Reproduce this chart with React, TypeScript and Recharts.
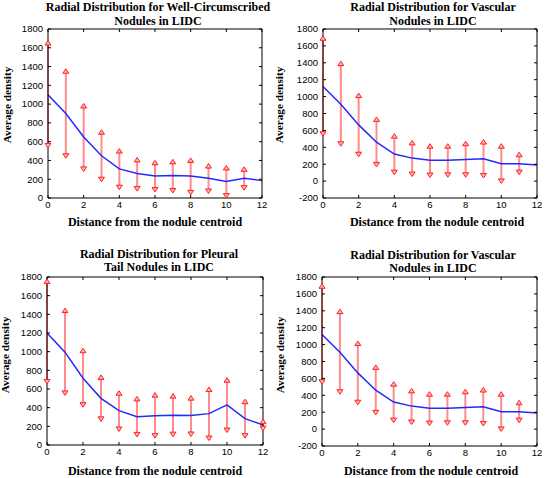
import { ComposedChart, Line, XAxis, YAxis, ErrorBar } from 'recharts'

const distance = [0, 1, 2, 3, 4, 5, 6, 7, 8, 9, 10, 11, 12]
const xTicks = [0, 2, 4, 6, 8, 10, 12]

// well-circumscribed
const wellMean = [1100, 900, 650, 450, 310, 260, 235, 240, 235, 210, 175, 210, 185]
const wellUpper = [1650, 1350, 980, 700, 500, 405, 375, 385, 400, 340, 320, 305, null]
const wellLower = [560, 450, 310, 200, 115, 100, 90, 80, 60, 75, 25, 110, null]

// vascular (shown twice in the figure)
const vascMean = [1120, 910, 665, 460, 320, 272, 248, 248, 255, 265, 205, 205, 190]
const vascUpper = [1690, 1390, 1012, 730, 532, 452, 413, 413, 442, 462, 413, 312, null]
const vascLower = [560, 442, 318, 198, 106, 84, 72, 75, 75, 66, 2, 106, null]

// pleural tail
const pleuMean = [1200, 995, 716, 500, 368, 304, 314, 320, 316, 336, 430, 282, 215]
const pleuUpper = [1752, 1440, 1010, 724, 554, 494, 534, 524, 502, 594, 694, 464, 250]
const pleuLower = [680, 558, 432, 280, 172, 114, 100, 116, 118, 74, 160, 100, 180]

const yTicksA = [0, 200, 400, 600, 800, 1000, 1200, 1400, 1600, 1800]
const yTicksB = [-200, 0, 200, 400, 600, 800, 1000, 1200, 1400, 1600, 1800]

const tickFont = { fontSize: 9.5, fill: '#000', fontFamily: '"Liberation Sans", Arial, sans-serif' }
const labelFont = { fontFamily: '"Liberation Serif", "Times New Roman", serif', fontWeight: 700, fontSize: 12, color: '#000', whiteSpace: 'nowrap' as const }

function buildRows(mean: number[], upper: (number | null)[], lower: (number | null)[]) {
  return distance.map((d, i) => {
    const hi = upper[i]
    const lo = lower[i]
    return {
      d,
      mean: mean[i],
      hi,
      lo,
      err: hi == null || lo == null ? undefined : [mean[i] - lo, hi - mean[i]],
    }
  })
}

const TriUp = (p: any) => {
  if (p.cy == null || p.payload?.hi == null) return <g key={p.key} />
  const { cx, cy } = p
  return <path key={p.key} d={`M${cx},${cy - 2.5} L${cx + 3},${cy + 2} L${cx - 3},${cy + 2} Z`} fill="#ffb3b3" stroke="#ff2020" strokeWidth={1} />
}

const TriDown = (p: any) => {
  if (p.cy == null || p.payload?.lo == null) return <g key={p.key} />
  const { cx, cy } = p
  return <path key={p.key} d={`M${cx},${cy + 2.5} L${cx + 3},${cy - 2} L${cx - 3},${cy - 2} Z`} fill="#ffb3b3" stroke="#ff2020" strokeWidth={1} />
}

interface PanelProps {
  rows: ReturnType<typeof buildRows>
  yTicks: number[]
  left: number
  top: number
  width: number
  margin: { top: number; right: number; bottom: number; left: number }
}

function Panel({ rows, yTicks, left, top, width, margin }: PanelProps) {
  const yDomain = [yTicks[0], yTicks[yTicks.length - 1]]
  return (
    <div style={{ position: 'absolute', left, top }}>
      <ComposedChart width={width} height={239} data={rows} margin={margin}>
        <XAxis xAxisId="b" dataKey="d" type="number" domain={[0, 12]} ticks={xTicks}
          stroke="#000" tickSize={-3} tickMargin={6} height={30} tick={tickFont} />
        <XAxis xAxisId="t" orientation="top" dataKey="d" type="number" domain={[0, 12]} ticks={xTicks}
          stroke="#000" tickSize={-3} tickFormatter={() => ''} height={1} />
        <YAxis yAxisId="l" type="number" domain={yDomain} ticks={yTicks}
          stroke="#000" tickSize={-3} tickMargin={8} width={40} tick={tickFont} />
        <YAxis yAxisId="r" orientation="right" type="number" domain={yDomain} ticks={yTicks}
          stroke="#000" tickSize={-3} tickFormatter={() => ''} width={1} />
        <Line xAxisId="b" yAxisId="l" dataKey="mean" stroke="#1f2bff" strokeWidth={1.5} dot={false}
          activeDot={false} isAnimationActive={false}>
          <ErrorBar dataKey="err" direction="y" width={0} stroke="#ff8c8c" strokeWidth={2} isAnimationActive={false} />
        </Line>
        <Line xAxisId="t" yAxisId="r" dataKey="hi" stroke="none" dot={TriUp} activeDot={false} isAnimationActive={false} />
        <Line xAxisId="t" yAxisId="r" dataKey="lo" stroke="none" dot={TriDown} activeDot={false} isAnimationActive={false} />
      </ComposedChart>
    </div>
  )
}

function Txt({ x, y, children, rotate }: { x: number; y: number; children: string; rotate?: boolean }) {
  return (
    <div style={{ ...labelFont, fontSize: rotate ? 11.3 : 12, position: 'absolute', left: x, top: y, lineHeight: 1,
      transform: `translate(-50%, -50%)${rotate ? ' rotate(-90deg)' : ''}` }}>
      {children}
    </div>
  )
}

export default function App() {
  return (
    <div style={{ position: 'absolute', left: 0, top: 0, width: 545, height: 478, background: '#fff', overflow: 'hidden' }}>
      <Panel rows={buildRows(wellMean, wellUpper, wellLower)} yTicks={yTicksA} left={0} top={0} width={272}
        margin={{ top: 28, right: 9, bottom: 11, left: 8 }} />
      <Panel rows={buildRows(vascMean, vascUpper, vascLower)} yTicks={yTicksB} left={272} top={0} width={273}
        margin={{ top: 28, right: 7, bottom: 11, left: 11 }} />
      <Panel rows={buildRows(pleuMean, pleuUpper, pleuLower)} yTicks={yTicksA} left={0} top={239} width={272}
        margin={{ top: 37, right: 8, bottom: 3, left: 7 }} />
      <Panel rows={buildRows(vascMean, vascUpper, vascLower)} yTicks={yTicksB} left={272} top={239} width={273}
        margin={{ top: 37, right: 7, bottom: 2, left: 10 }} />

      <Txt x={158} y={7}>Radial Distribution for Well-Circumscribed</Txt>
      <Txt x={158} y={21}>Nodules in LIDC</Txt>
      <Txt x={433} y={7}>Radial Distribution for Vascular</Txt>
      <Txt x={433} y={21}>Nodules in LIDC</Txt>
      <Txt x={159} y={254}>Radial Distribution for Pleural</Txt>
      <Txt x={159} y={267}>Tail Nodules in LIDC</Txt>
      <Txt x={433} y={255}>Radial Distribution for Vascular</Txt>
      <Txt x={433} y={268}>Nodules in LIDC</Txt>

      <Txt x={155} y={222}>Distance from the nodule centroid</Txt>
      <Txt x={437} y={222}>Distance from the nodule centroid</Txt>
      <Txt x={155} y={471}>Distance from the nodule centroid</Txt>
      <Txt x={431} y={471}>Distance from the nodule centroid</Txt>

      <Txt x={8} y={105} rotate>Average density</Txt>
      <Txt x={280} y={105} rotate>Average density</Txt>
      <Txt x={6} y={355} rotate>Average density</Txt>
      <Txt x={281} y={355} rotate>Average density</Txt>
    </div>
  )
}
